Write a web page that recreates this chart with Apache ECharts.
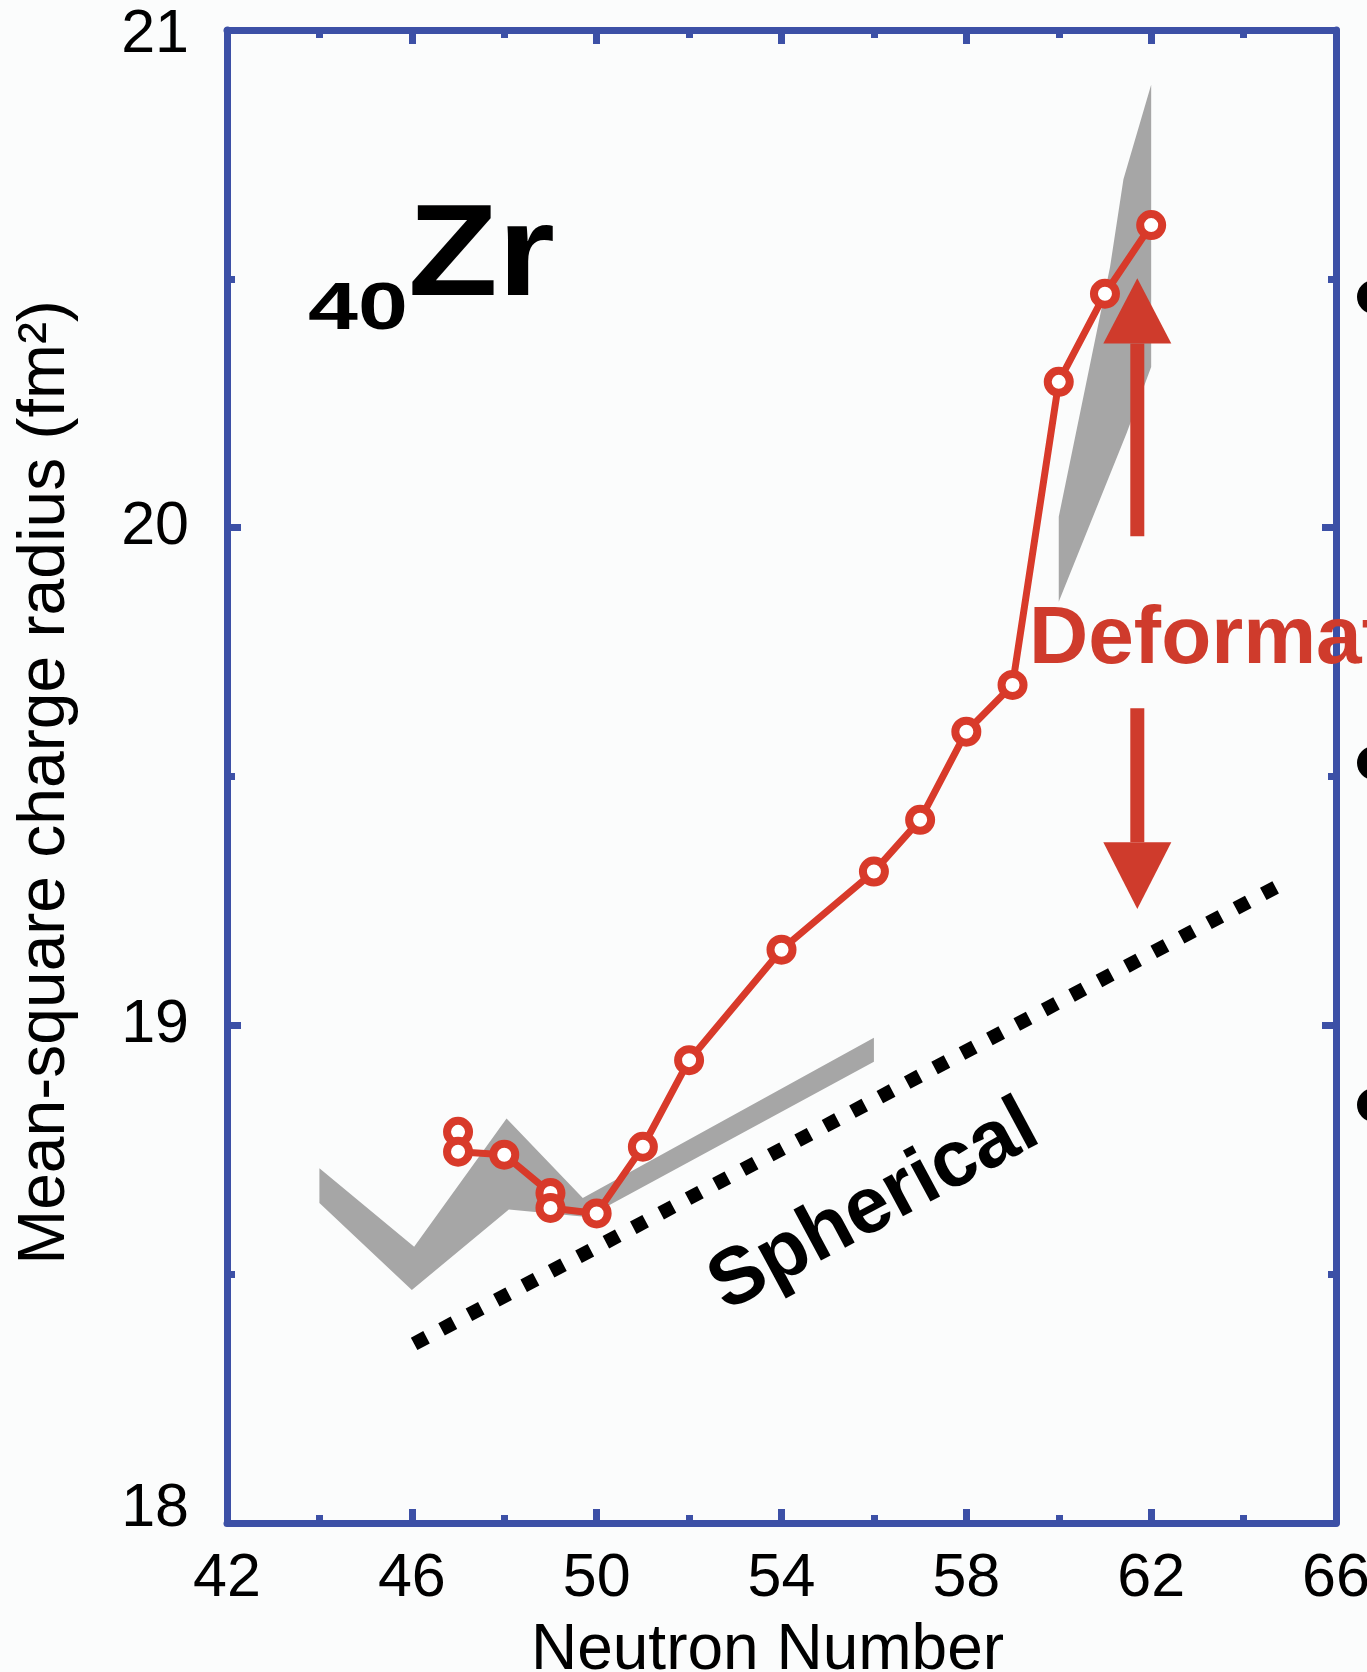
<!DOCTYPE html>
<html>
<head>
<meta charset="utf-8">
<script src="https://cdn.jsdelivr.net/npm/echarts@6/dist/echarts.min.js"></script>
<style>
html,body{margin:0;padding:0;background:#fbfcfc;}
#chart{width:1367px;height:1672px;}
</style>
</head>
<body>
<div id="chart"></div>
<script>
// ---- data ----
const xTickLabels = [42, 46, 50, 54, 58, 62, 66];
const yTickLabels = [18, 19, 20, 21];

// measured mean-square charge radius (red line)
const neutronN = [47, 47, 48, 49, 49, 50, 51, 52, 54, 56, 57, 58, 59, 60, 61, 62];
const msRadius = [18.786, 18.746, 18.740, 18.663, 18.633, 18.622, 18.756, 18.930,
                  19.152, 19.309, 19.413, 19.590, 19.684, 20.293, 20.470, 20.608];

// grey theory band, lower-left part (outline: upper edge then lower edge back)
const band1N = [44, 46.05, 48.05, 49.7, 56, 56, 49.8, 48.1, 46.0, 44];
const band1V = [18.713, 18.555, 18.813, 18.653, 18.975, 18.927, 18.615, 18.63, 18.468, 18.643];

// grey theory band, upper-right part
const band2N = [60, 61.11, 61.4, 62, 62, 61.47, 60];
const band2V = [20.022, 20.524, 20.70, 20.89, 20.323, 20.19, 19.851];

// "Spherical" dotted reference line
const sphericalN = [46.05, 64.85];
const sphericalV = [18.36, 19.285];

// red arrows (x, tail, head base, tip)
const arrowN = [61.7, 61.7];
const arrowTail = [19.983, 19.637];
const arrowBase = [20.37, 19.368];
const arrowTip = [20.501, 19.234];

// ---- styling ----
const FONT = "'Liberation Sans', Arial, Helvetica, sans-serif";
const AXIS_BLUE = '#3c50a6';
const RED = '#d83a2a';
const ARROW_RED = '#cf3b2c';
const GREY = '#a6a6a6';

const chart = echarts.init(document.getElementById('chart'), null, {renderer: 'canvas'});

function axisCommon(extra) {
  return Object.assign({
    type: 'value',
    axisLine: {show: true, onZero: false, lineStyle: {color: AXIS_BLUE, width: 7}},
    axisTick: {show: true, inside: true, length: 14, lineStyle: {color: AXIS_BLUE, width: 7}},
    minorTick: {show: true, splitNumber: 2, length: 8, lineStyle: {color: AXIS_BLUE, width: 7}},
    splitLine: {show: false},
    minorSplitLine: {show: false}
  }, extra);
}

function bandSeries(nArr, vArr) {
  return {
    type: 'custom',
    coordinateSystem: 'cartesian2d',
    silent: true,
    z: 1,
    data: [[nArr[0], vArr[0]]],
    renderItem: function (params, api) {
      const pts = nArr.map(function (n, i) { return api.coord([n, vArr[i]]); });
      return {type: 'polygon', shape: {points: pts}, style: {fill: GREY}};
    }
  };
}

const option = {
  backgroundColor: '#fbfcfc',
  animation: false,
  grid: {left: 227, right: 31, top: 30, bottom: 149, containLabel: false, outerBoundsMode: 'none'},
  xAxis: [
    axisCommon({
      position: 'bottom', min: 42, max: 66, interval: 4,
      axisLabel: {show: true, fontSize: 61, color: '#000', fontFamily: FONT, margin: 26,
        formatter: function (v) { return xTickLabels.indexOf(v) >= 0 ? String(v) : ''; }},
      name: 'Neutron Number', nameLocation: 'middle', nameGap: 96,
      nameTextStyle: {fontSize: 64, color: '#000', fontFamily: FONT, padding: [0, 28, 0, 0]}
    }),
    axisCommon({
      position: 'top', min: 42, max: 66, interval: 4,
      axisLabel: {show: false}
    })
  ],
  yAxis: [
    axisCommon({
      position: 'left', min: 18, max: 21, interval: 1,
      axisLabel: {show: true, fontSize: 61, color: '#000', fontFamily: FONT, margin: 38,
        formatter: function (v) {
          if (yTickLabels.indexOf(v) < 0) return '';
          if (v === 21) return '{t|' + v + '}';
          if (v === 18) return '{b|' + v + '}';
          return String(v);
        },
        rich: {
          t: {fontSize: 61, color: '#000', fontFamily: FONT, padding: [10, 0, 0, 0]},
          b: {fontSize: 61, color: '#000', fontFamily: FONT, padding: [0, 0, 28, 0]}
        }},
      name: 'Mean-square charge radius (fm\u00B2)', nameLocation: 'middle', nameGap: 148,
      nameTextStyle: {fontSize: 66, color: '#000', fontFamily: FONT, padding: [0, 12, 0, 0]}
    }),
    axisCommon({
      position: 'right', min: 18, max: 21, interval: 1,
      axisLabel: {show: false}
    })
  ],
  series: [
    bandSeries(band1N, band1V),
    bandSeries(band2N, band2V),
    {
      type: 'line',
      xAxisIndex: 0, yAxisIndex: 0,
      data: sphericalN.map(function (n, i) { return [n, sphericalV[i]]; }),
      showSymbol: false, symbol: 'none', silent: true, z: 2,
      lineStyle: {color: '#000', width: 14, type: [14, 17], cap: 'butt'}
    },
    {
      type: 'custom',
      coordinateSystem: 'cartesian2d',
      silent: true, z: 3,
      data: arrowN.map(function (n, i) { return [n, arrowTail[i], arrowBase[i], arrowTip[i]]; }),
      encode: {x: 0, y: [1, 2, 3]},
      renderItem: function (params, api) {
        const tail = api.coord([api.value(0), api.value(1)]);
        const base = api.coord([api.value(0), api.value(2)]);
        const tip = api.coord([api.value(0), api.value(3)]);
        const sw = 7, hw = 34;
        return {type: 'group', children: [
          {type: 'polygon', shape: {points: [[tail[0] - sw, tail[1]], [tail[0] + sw, tail[1]], [base[0] + sw, base[1]], [base[0] - sw, base[1]]]}, style: {fill: ARROW_RED}},
          {type: 'polygon', shape: {points: [[base[0] - hw, base[1]], [base[0] + hw, base[1]], [tip[0], tip[1]]]}, style: {fill: ARROW_RED}}
        ]};
      }
    },
    {
      type: 'line',
      xAxisIndex: 0, yAxisIndex: 0,
      data: neutronN.map(function (n, i) { return [n, msRadius[i]]; }),
      symbol: 'circle', symbolSize: 22, showAllSymbol: true, z: 4,
      lineStyle: {color: RED, width: 7},
      itemStyle: {color: '#ffffff', borderColor: RED, borderWidth: 8}
    }
  ],
  graphic: [
    {type: 'text', x: 308, y: 311, scaleX: 1.34, z: 10, style: {text: '40', font: 'bold 67px ' + FONT, fill: '#000', align: 'left', verticalAlign: 'middle'}},
    {type: 'text', x: 408, y: 259, scaleX: 1.14, z: 10, style: {text: 'Zr', font: 'bold 129px ' + FONT, fill: '#000', align: 'left', verticalAlign: 'middle'}},
    {type: 'text', x: 1029, y: 640, z: 1, style: {text: 'Deformation', font: 'bold 82px ' + FONT, fill: ARROW_RED, align: 'left', verticalAlign: 'middle'}},
    {type: 'text', x: 874, y: 1207, rotation: 28.3 * Math.PI / 180, z: 10,
      style: {text: 'Spherical', font: 'bold 80px ' + FONT, fill: '#000', align: 'center', verticalAlign: 'middle'}},
    {type: 'circle', shape: {cx: 1374, cy: 297, r: 17}, style: {fill: '#000'}},
    {type: 'circle', shape: {cx: 1374, cy: 763, r: 17}, style: {fill: '#000'}},
    {type: 'circle', shape: {cx: 1374, cy: 1105, r: 17}, style: {fill: '#000'}}
  ]
};

chart.setOption(option);
</script>
</body>
</html>
